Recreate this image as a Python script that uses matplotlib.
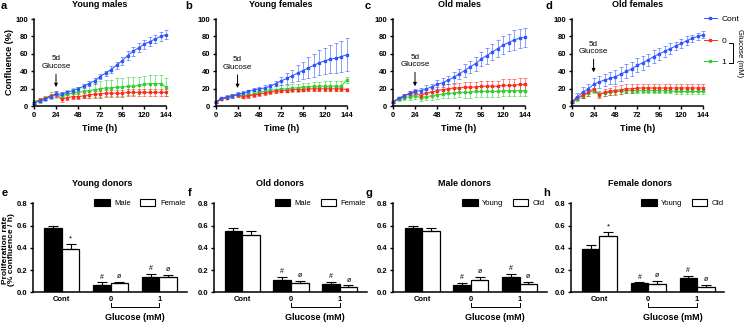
import matplotlib.pyplot as plt
import matplotlib.transforms as mtransforms
from matplotlib.lines import Line2D
from matplotlib.patches import Patch

plt.rcParams['font.family'] = ['Liberation Sans', 'DejaVu Sans']

W, H = 746, 324

# ---- time course data (confluence %, mean and SEM) ----
time_h = [0, 6, 12, 18, 24, 30, 36, 42, 48, 54, 60, 66, 72,
          78, 84, 90, 96, 102, 108, 114, 120, 126, 132, 138, 144]

ym_cont = [4, 6, 8, 11, 14, 14, 16, 18, 20, 23, 26, 29, 34, 38, 42, 47, 52, 58, 63, 67, 71, 74, 77, 80, 82]
ym_cont_err = [1, 1, 1, 2, 2, 2, 2, 2, 2, 2, 3, 3, 3, 3, 4, 4, 5, 5, 5, 5, 5, 5, 5, 5, 5]
ym_g0 = [4, 7, 9, 12, 14, 8, 10, 11, 11, 12, 13, 14, 14, 15, 15, 15, 15, 16, 16, 16, 16, 16, 16, 16, 16]
ym_g0_err = [1, 2, 2, 2, 3, 3, 3, 3, 3, 3, 4, 4, 4, 4, 4, 4, 4, 4, 4, 4, 4, 4, 4, 4, 4]
ym_g1 = [5, 7, 9, 12, 14, 12, 14, 15, 16, 17, 18, 19, 20, 21, 21, 22, 22, 23, 23, 24, 25, 26, 26, 26, 22]
ym_g1_err = [2, 3, 3, 4, 4, 4, 5, 6, 6, 7, 8, 8, 9, 9, 9, 10, 10, 10, 10, 10, 10, 10, 10, 10, 10]

yf_cont = [5, 9, 11, 12, 14, 15, 17, 19, 20, 21, 23, 26, 29, 32, 35, 38, 41, 44, 47, 50, 52, 54, 55, 57, 59]
yf_cont_err = [1, 1, 2, 2, 2, 2, 2, 2, 2, 3, 3, 3, 5, 6, 7, 9, 10, 12, 13, 14, 15, 16, 17, 18, 19]
yf_g0 = [5, 8, 10, 12, 13, 11, 12, 13, 14, 15, 16, 17, 18, 18, 19, 19, 19, 20, 20, 20, 20, 20, 20, 20, 19]
yf_g0_err = [1, 1, 1, 1, 2, 2, 2, 2, 2, 2, 2, 2, 2, 2, 2, 2, 2, 2, 2, 2, 2, 2, 2, 2, 2]
yf_g1 = [5, 8, 10, 12, 13, 12, 13, 14, 16, 17, 18, 19, 20, 20, 21, 21, 22, 22, 23, 23, 23, 23, 23, 23, 30]
yf_g1_err = [1, 1, 1, 2, 2, 2, 2, 2, 3, 3, 3, 4, 4, 4, 5, 5, 5, 5, 5, 5, 6, 6, 6, 6, 3]

om_cont = [5, 9, 12, 15, 17, 18, 20, 22, 25, 27, 30, 33, 37, 41, 45, 49, 54, 58, 62, 66, 70, 73, 76, 78, 79]
om_cont_err = [1, 2, 2, 2, 3, 3, 4, 4, 5, 5, 5, 6, 6, 7, 7, 8, 8, 9, 9, 10, 10, 10, 11, 11, 11]
om_g0 = [5, 9, 12, 14, 16, 12, 15, 16, 18, 19, 20, 21, 21, 22, 22, 22, 23, 23, 23, 23, 24, 24, 24, 25, 25]
om_g0_err = [1, 2, 2, 3, 3, 3, 4, 4, 4, 5, 5, 5, 6, 6, 6, 6, 6, 6, 6, 6, 7, 7, 7, 7, 7]
om_g1 = [5, 8, 10, 11, 12, 10, 11, 12, 13, 14, 15, 15, 16, 16, 16, 17, 17, 17, 17, 17, 18, 18, 18, 18, 18]
om_g1_err = [1, 2, 3, 4, 4, 4, 4, 5, 5, 5, 5, 5, 5, 6, 6, 6, 6, 6, 6, 6, 6, 6, 6, 6, 6]

of_cont = [5, 11, 16, 20, 25, 28, 30, 32, 34, 37, 40, 43, 47, 50, 53, 57, 60, 63, 66, 69, 72, 75, 78, 80, 82]
of_cont_err = [1, 4, 6, 6, 7, 7, 7, 7, 8, 8, 8, 8, 8, 8, 7, 7, 7, 6, 6, 5, 5, 5, 4, 4, 4]
of_g0 = [5, 9, 13, 16, 20, 13, 16, 17, 18, 19, 20, 20, 21, 21, 21, 21, 21, 21, 21, 21, 21, 21, 21, 21, 21]
of_g0_err = [1, 2, 3, 4, 4, 3, 4, 4, 5, 5, 5, 5, 5, 5, 5, 5, 5, 5, 5, 5, 5, 5, 5, 5, 5]
of_g1 = [5, 8, 12, 15, 18, 14, 15, 16, 17, 17, 18, 18, 18, 18, 18, 18, 18, 18, 18, 17, 17, 17, 17, 17, 17]
of_g1_err = [1, 2, 2, 3, 3, 3, 3, 3, 3, 3, 3, 3, 3, 3, 3, 3, 3, 3, 3, 3, 3, 3, 3, 3, 3]

line_titles = ['Young males', 'Young females', 'Old males', 'Old females']
line_letters = ['a', 'b', 'c', 'd']
series_labels = ['Cont', '0', '1']

# ---- proliferation rate bars ----
bar_groups = ['Cont', '0', '1']
e_male = [0.58, 0.07, 0.14]
e_male_err = [0.02, 0.02, 0.025]
e_female = [0.39, 0.085, 0.135]
e_female_err = [0.04, 0.012, 0.02]
f_male = [0.55, 0.115, 0.072]
f_male_err = [0.025, 0.022, 0.024]
f_female = [0.515, 0.08, 0.048]
f_female_err = [0.035, 0.024, 0.016]
g_young = [0.58, 0.07, 0.14]
g_young_err = [0.02, 0.016, 0.025]
g_old = [0.55, 0.11, 0.072]
g_old_err = [0.03, 0.028, 0.02]
h_young = [0.385, 0.083, 0.128]
h_young_err = [0.04, 0.008, 0.02]
h_old = [0.51, 0.076, 0.047]
h_old_err = [0.035, 0.025, 0.02]

bar_titles = ['Young donors', 'Old donors', 'Male donors', 'Female donors']
bar_letters = ['e', 'f', 'g', 'h']

BLUE = '#2f55ff'
RED = '#ff2a1f'
GREEN = '#2fd030'


def fx(x):
    return x / W


def fy(y):
    return 1 - y / H


def add_ax(fig, x0, x1, y0, y1):
    return fig.add_axes([x0 / W, 1 - y1 / H, (x1 - x0) / W, (y1 - y0) / H])


def style(ax):
    for s in ['top', 'right']:
        ax.spines[s].set_visible(False)
    for s in ['left', 'bottom']:
        ax.spines[s].set_linewidth(1.1)
    ax.tick_params(width=1.0, length=2.5, labelsize=5.5, pad=1.5)
    for lab in ax.get_xticklabels() + ax.get_yticklabels():
        lab.set_fontweight('bold')


fig = plt.figure(figsize=(W / 100, H / 100), dpi=100)

# ---------------- top row ----------------
line_data = [
    (ym_cont, ym_cont_err, ym_g0, ym_g0_err, ym_g1, ym_g1_err),
    (yf_cont, yf_cont_err, yf_g0, yf_g0_err, yf_g1, yf_g1_err),
    (om_cont, om_cont_err, om_g0, om_g0_err, om_g1, om_g1_err),
    (of_cont, of_cont_err, of_g0, of_g0_err, of_g1, of_g1_err),
]
top_x = [(34, 166), (215.7, 346.7), (393, 525), (571.7, 703)]
letter_x = [4, 189, 368, 549]
arrow_head = [22, 21, 23, 39]
arrow_text = [50, 49, 52, 67]

for i in range(4):
    x0, x1 = top_x[i]
    ax = add_ax(fig, x0, x1, 19, 106.3)
    c, ce, g0, g0e, g1, g1e = line_data[i]
    for y, e, col in [(g1, g1e, GREEN), (g0, g0e, RED), (c, ce, BLUE)]:
        ax.errorbar(time_h, y, yerr=e, color=col, ecolor=col + '90',
                    elinewidth=0.7, capsize=1.3, capthick=0.7,
                    lw=0.7, marker='s', ms=1.6, clip_on=False)
    ax.set_xlim(0, 144)
    ax.set_ylim(0, 100)
    ax.set_xticks([0, 24, 48, 72, 96, 120, 144])
    ax.set_yticks([0, 20, 40, 60, 80, 100])
    style(ax)
    ax.annotate('5d\nGlucose', xy=(24, arrow_head[i]), xytext=(24, arrow_text[i]),
                ha='center', va='center', fontsize=5.8, linespacing=1.1,
                arrowprops=dict(arrowstyle='-|>', color='black', lw=0.7,
                                mutation_scale=5, shrinkA=1, shrinkB=0))
    fig.text(fx((x0 + x1) / 2), fy(4.5), line_titles[i], ha='center', va='center',
             fontsize=6.5, fontweight='bold')
    fig.text(fx(letter_x[i]), fy(6), line_letters[i], ha='center', va='center',
             fontsize=8, fontweight='bold')
    fig.text(fx((x0 + x1) / 2), fy(128.5), 'Time (h)', ha='center', va='center',
             fontsize=6.5, fontweight='bold')
    if i == 0:
        fig.text(fx(10), fy(62), 'Confluence (%)', ha='center', va='center',
                 rotation=90, fontsize=6.5, fontweight='bold')
    if i == 3:
        handles = [Line2D([], [], color=col, lw=0.7, marker='s', ms=1.6)
                   for col in [BLUE, RED, GREEN]]
        ax.legend(handles, series_labels, loc='upper left', frameon=False,
                  bbox_to_anchor=(fx(704), fy(15.5)), bbox_transform=fig.transFigure,
                  fontsize=6, handlelength=1.5, handletextpad=0.6,
                  labelspacing=1.6, borderpad=0, borderaxespad=0)

# glucose bracket next to legend
fig.add_artist(Line2D([fx(729), fx(733), fx(733), fx(729)],
                      [fy(42.5), fy(42.5), fy(63), fy(63)], color='black', lw=0.7))
fig.text(fx(740), fy(53), 'Glucose (mM)', rotation=270, ha='center', va='center',
         fontsize=5.5)

# ---------------- bottom row ----------------
bar_data = [
    (e_male, e_male_err, e_female, e_female_err, ['Male', 'Female'],
     ['', '#', '#'], ['*', 'ø', 'ø']),
    (f_male, f_male_err, f_female, f_female_err, ['Male', 'Female'],
     ['', '#', '#'], ['', 'ø', 'ø']),
    (g_young, g_young_err, g_old, g_old_err, ['Young', 'Old'],
     ['', '#', '#'], ['', 'ø', 'ø']),
    (h_young, h_young_err, h_old, h_old_err, ['Young', 'Old'],
     ['', '#', '#'], ['*', 'ø', 'ø']),
]
bot_x = [(33, 186.7), (213.5, 367), (393.3, 547), (570.7, 724.4)]
leg_x = [0.40, 0.40, 0.45, 0.46]
bar_title_x = [102, 280, 465, 640]
bar_letter_x = [5, 190, 369, 547]
xpos = [0, 1, 2]
bw = 0.36

for i in range(4):
    x0, x1 = bot_x[i]
    ax = add_ax(fig, x0, x1, 203.3, 292.3)
    a, ae, b, be, labs, sa, sb = bar_data[i]
    xa = [p - bw / 2 for p in xpos]
    xb = [p + bw / 2 for p in xpos]
    ax.bar(xa, a, bw, yerr=[[0] * 3, ae], color='black', edgecolor='black',
           lw=0.9, capsize=3.5, error_kw=dict(elinewidth=0.8, capthick=0.8),
           label=labs[0])
    ax.bar(xb, b, bw, yerr=[[0] * 3, be], color='white', edgecolor='black',
           lw=0.9, capsize=3.5, error_kw=dict(elinewidth=0.8, capthick=0.8),
           label=labs[1])
    for k in range(3):
        if sa[k]:
            ax.text(xa[k], a[k] + ae[k] + 0.015, sa[k], ha='center', va='bottom',
                    fontsize=5)
        if sb[k]:
            ax.text(xb[k], b[k] + be[k] + 0.015, sb[k], ha='center', va='bottom',
                    fontsize=5.5 if sb[k] == '*' else 5)
    ax.set_xlim(-0.59, 2.56)
    ax.set_ylim(0, 0.8)
    ax.set_yticks([0, 0.2, 0.4, 0.6, 0.8])
    ax.set_yticklabels(['0.0', '0.2', '0.4', '0.6', '0.8'])
    ax.set_xticks(xpos)
    ax.set_xticklabels(bar_groups)
    style(ax)
    ax.tick_params(axis='x', length=0, pad=3)
    trans = mtransforms.blended_transform_factory(ax.transData, ax.transAxes)
    ax.plot([1, 1, 2, 2], [-0.115, -0.165, -0.165, -0.115], color='black', lw=0.7,
            transform=trans, clip_on=False)
    ax.text(1.5, -0.28, 'Glucose (mM)', transform=trans, ha='center', va='center',
            fontsize=6.5, fontweight='bold')
    ax.legend(handles=[Patch(facecolor='black', edgecolor='black', lw=0.8),
                       Patch(facecolor='white', edgecolor='black', lw=0.8)],
              labels=labs, ncol=2, loc='center left', frameon=False,
              bbox_to_anchor=(leg_x[i], 1.0), fontsize=5.5, handlelength=2.0,
              handleheight=0.9, handletextpad=0.6, columnspacing=1.2,
              borderpad=0, borderaxespad=0)
    fig.text(fx(bar_title_x[i]), fy(184), bar_titles[i], ha='center', va='center',
             fontsize=6.5, fontweight='bold')
    fig.text(fx(bar_letter_x[i]), fy(193), bar_letters[i], ha='center', va='center',
             fontsize=8, fontweight='bold')
    if i == 0:
        fig.text(fx(8.5), fy(250), 'Proliferation rate\n(% confluence / h)', ha='center',
                 va='center', rotation=90, fontsize=6, fontweight='bold',
                 linespacing=0.95)

fig.savefig('out.png', dpi=100)
